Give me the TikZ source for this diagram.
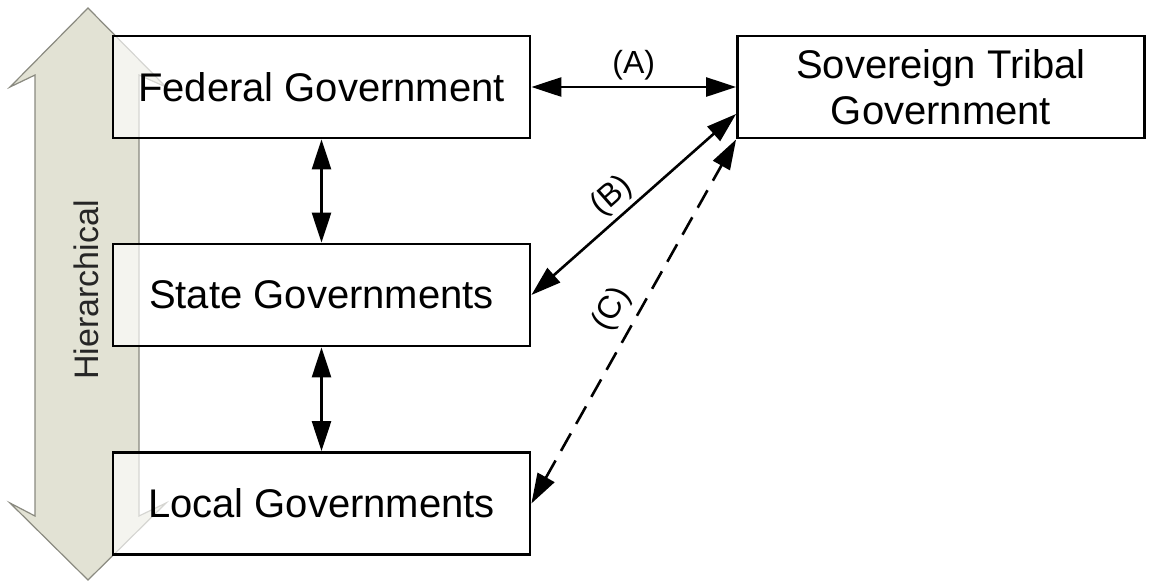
\documentclass[tikz,border=0pt]{standalone}
\usepackage{fontspec}
\setmainfont{Liberation Sans}
\usetikzlibrary{arrows.meta,calc}
\definecolor{arrowfill}{HTML}{E2E2D4}
\definecolor{arrowline}{HTML}{8A8A80}
\begin{document}
\begin{tikzpicture}[x=1pt,y=-1pt,
  govbox/.style={draw=black, line width=2.8pt, fill=white, fill opacity=0.65, text opacity=1,
    minimum width=417pt, minimum height=102pt, inner sep=0pt, align=center,
    font=\fontsize{40}{46}\selectfont},
  link/.style={line width=2.6pt, {Triangle[length=30pt,width=19pt]}-{Triangle[length=30pt,width=19pt]}},
  lbl/.style={font=\fontsize{32}{36}\selectfont, sloped, above=1pt}]
\useasboundingbox (0,0) rectangle (1152,582);
% hierarchical big arrow
\draw[draw=arrowline, line width=1.2pt, fill=arrowfill]
  (88,8) -- (166,87) -- (139,75) -- (139,516) -- (166,503) -- (88,580)
  -- (10,503) -- (35,516) -- (35,75) -- (10,87) -- cycle;
\node[rotate=90, font=\fontsize{34}{40}\selectfont, text=black!85] (hier) at (86,290) {Hierarchical};
% boxes
\node[govbox] (fed) at (321.5,87) {Federal Government};
\node[govbox] (state) at (321.5,295) {State Governments};
\node[govbox] (local) at (321.5,503.5) {Local Governments};
\node[govbox, minimum width=407pt] (sov) at (941,87) {Sovereign Tribal\\Government};
% connectors
\draw[link] (fed.east) -- node[lbl, above=1pt] {(A)} (sov.west);
\draw[link] (state.east) -- node[lbl, pos=0.46] {(B)} ([yshift=-27pt]sov.west);
\draw[link, dash pattern=on 20pt off 11pt] (local.east) -- node[lbl, pos=0.5, above=4pt] {(C)} (sov.south west);
\draw[link] (fed.south) -- (state.north);
\draw[link] (state.south) -- (local.north);
\end{tikzpicture}
\end{document}
